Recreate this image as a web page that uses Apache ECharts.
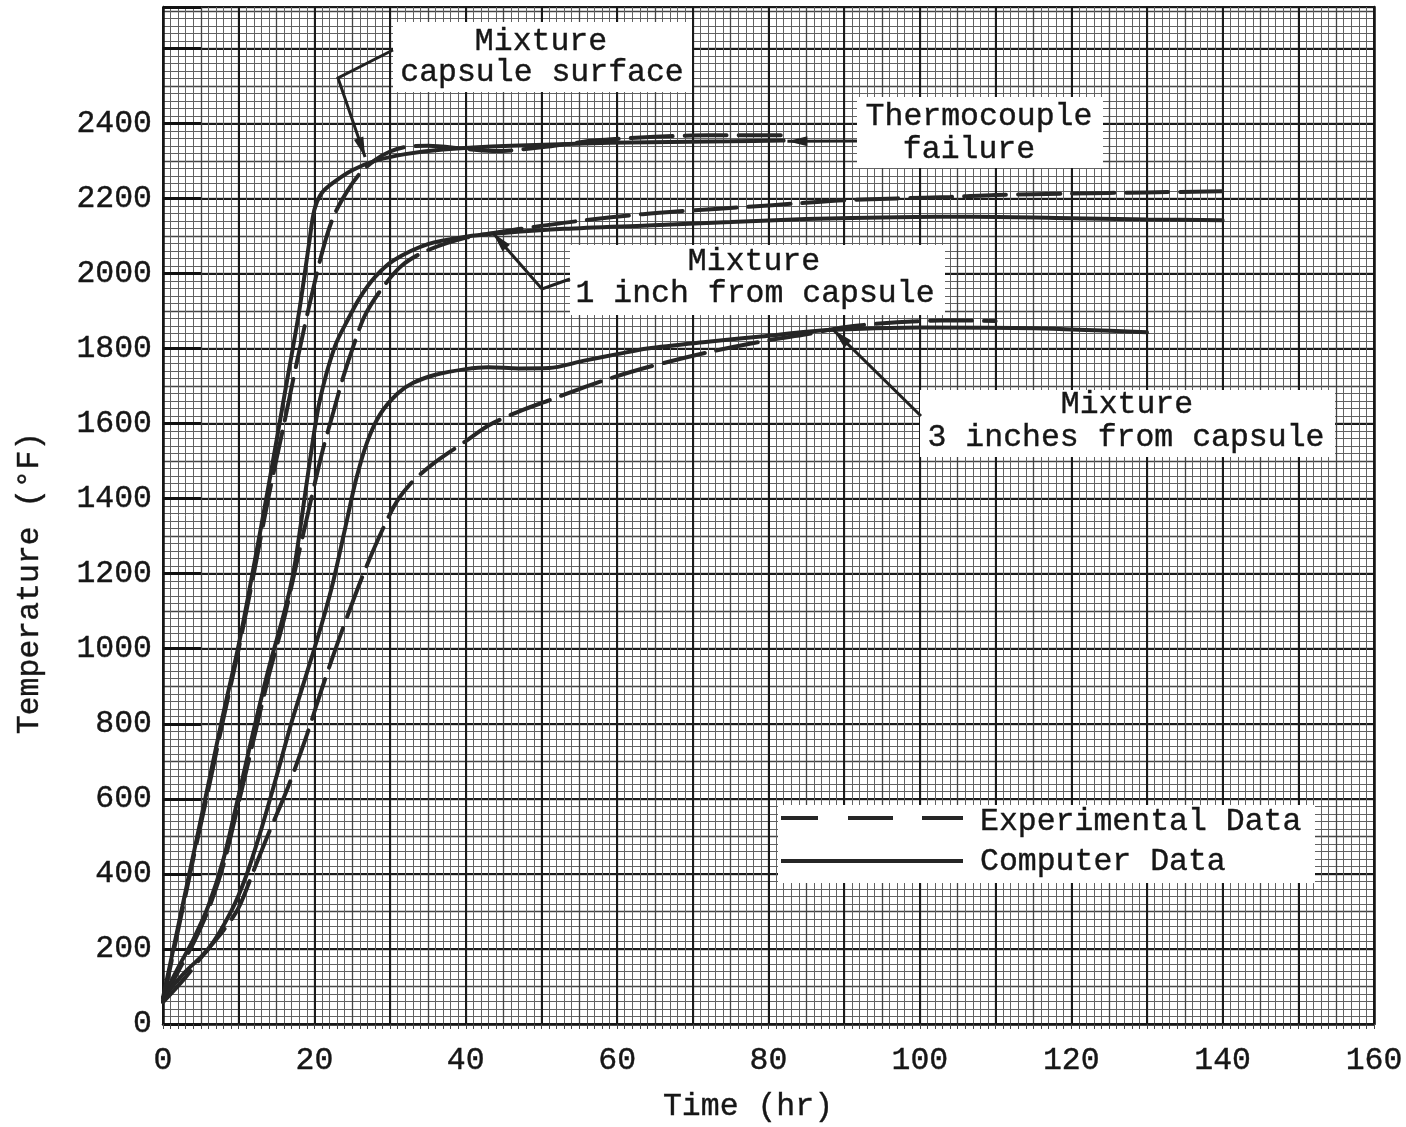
<!DOCTYPE html>
<html>
<head>
<meta charset="utf-8">
<script src="https://cdn.jsdelivr.net/npm/echarts@6/dist/echarts.min.js"></script>
<style>
  html, body { margin: 0; padding: 0; background: #fff; }
  #chart { width: 1406px; height: 1127px; }
</style>
</head>
<body>
<div id="chart"></div>
<script>
// Temperature history of the heated mixture: [time (hr), temperature (°F)]
const capsuleComputed = [[0,70],[2,260],[4,450],[6,640],[8,830],[10,1010],[12,1220],[14,1440],[16,1670],[18,1900],[19.3,2080],[20,2170],[21,2215],[22.5,2242],[25,2275],[28,2300],[32,2318],[37,2330],[46,2340],[59,2348],[75,2352],[82,2354]];
const capsuleExperimental = [[0,60],[2,250],[4,440],[6,625],[8,815],[10,1000],[12,1200],[14,1410],[16,1600],[17.7,1765],[19.4,1921],[21.1,2062],[22.5,2150],[24.3,2218],[26,2266],[28,2302],[30,2325],[32,2337],[35,2340],[40,2332],[44,2326],[50,2336],[57,2354],[65,2364],[72,2368],[82,2368]];
const inchComputed = [[0,70],[2,150],[4,225],[6,315],[8,440],[10,610],[12,785],[14,950],[16,1095],[17.2,1200],[18.2,1330],[19.4,1500],[20.7,1660],[22.7,1805],[24.5,1880],[26,1935],[28,1990],[30.5,2035],[35,2078],[40,2098],[45,2108],[53,2119],[64,2128],[75,2137],[85,2145],[97,2150],[107,2151],[118,2148],[130,2144],[140,2142]];
const inchExperimental = [[0,62],[2,140],[4,215],[6,305],[8,425],[10,590],[12,760],[14,930],[16,1080],[17.4,1205],[19.4,1383],[21.1,1529],[22.5,1630],[23.8,1723],[25.3,1815],[26.7,1889],[29,1962],[31.6,2022],[35,2062],[40.2,2096],[45,2112],[49,2124],[55,2140],[63.4,2158],[70,2168],[77,2177],[84,2187],[90,2195],[97,2200],[104,2204],[110,2209],[120,2213],[130,2216],[140,2219]];
const threeInchComputed = [[0,70],[3,140],[6,200],[9,300],[11,395],[13,520],[15,660],[17,805],[19,935],[21,1068],[22.5,1180],[24,1315],[25.5,1450],[27,1552],[28.7,1625],[31,1680],[33,1708],[36,1730],[40,1745],[43,1750],[47,1747],[51,1748],[55.5,1767],[60,1785],[64,1800],[72,1818],[79,1832],[88,1849],[100,1856],[115,1854],[130,1843]];
const threeInchExperimental = [[0,58],[3,125],[5.5,189],[8,250],[10,310],[12,410],[14,510],[16.5,630],[19,770],[21.1,900],[23.6,1045],[27,1225],[30.4,1375],[32.5,1435],[35.5,1490],[40,1553],[43,1595],[47,1632],[51,1662],[55,1692],[59,1720],[64,1750],[72,1790],[80,1822],[85,1838],[90,1857],[97,1870],[104,1875],[110,1873]];

// Axis ranges and labelled ticks
const timeTicks = [0,20,40,60,80,100,120,140,160];
const tempTicks = [0,200,400,600,800,1000,1200,1400,1600,1800,2000,2200,2400];
const timeMax = 160;
const tempMax = 2710;

const FONT = '"Liberation Mono", "Courier New", monospace';
const INK = '#161616';
const CURVE = '#262626';
const DASH = [42, 12];

const chart = echarts.init(document.getElementById('chart'), null, { renderer: 'canvas' });

function gridAxis(dim, interval, color, width, extra) {
  const base = {
    type: 'value', gridIndex: 0, min: 0,
    position: dim === 'x' ? 'bottom' : 'left', offset: 0,
    max: dim === 'x' ? timeMax : tempMax,
    interval: interval,
    axisLine: { show: false },
    axisTick: { show: false },
    axisLabel: { show: false },
    splitLine: { show: true, lineStyle: { color: color, width: width } }
  };
  return Object.assign(base, extra || {});
}

const xAxes = [
  // paper ruling: 1 hr, 5 hr, 10 hr
  gridAxis('x', 1, '#626262', 1, {
    axisTick: { show: true, inside: false, length: 5, lineStyle: { color: '#444', width: 1 } }
  }),
  gridAxis('x', 5, '#444', 1.3),
  gridAxis('x', 10, '#1a1a1a', 2),
  // labelled time axis
  {
    type: 'value', gridIndex: 0, position: 'bottom', offset: 0,
    min: 0, max: timeMax, interval: timeTicks[1] - timeTicks[0],
    axisLine: { show: true, lineStyle: { color: INK, width: 2.5 } },
    axisTick: { show: false },
    splitLine: { show: false },
    axisLabel: {
      margin: 21, fontFamily: FONT, fontSize: 31.5, color: INK,
      textBorderColor: INK, textBorderWidth: 0.4,
      formatter: v => timeTicks.indexOf(v) >= 0 ? String(v) : ''
    }
  }
];

const yAxes = [
  // paper ruling: 20 °F, 100 °F, 200 °F
  gridAxis('y', 20, '#626262', 1),
  gridAxis('y', 100, '#444', 1.3),
  gridAxis('y', 200, '#1a1a1a', 2),
  // labelled temperature axis
  {
    type: 'value', gridIndex: 0, position: 'left', offset: 0,
    min: 0, max: tempMax, interval: tempTicks[1] - tempTicks[0],
    axisLine: { show: true, lineStyle: { color: INK, width: 2.5 } },
    axisTick: { show: true, inside: true, length: 38, lineStyle: { color: '#111', width: 3 } },
    splitLine: { show: false },
    axisLabel: {
      margin: 11, fontFamily: FONT, fontSize: 31.5, color: INK,
      textBorderColor: INK, textBorderWidth: 0.4,
      formatter: v => tempTicks.indexOf(v) >= 0 ? String(v) : ''
    }
  },
  // right border of the sheet
  {
    type: 'value', gridIndex: 0, position: 'right', offset: 0,
    min: 0, max: tempMax,
    axisLine: { show: true, lineStyle: { color: INK, width: 2.5 } },
    axisTick: { show: false }, axisLabel: { show: false }, splitLine: { show: false }
  }
];

function curve(name, data, dashed) {
  return {
    name: name, type: 'line', xAxisIndex: 3, yAxisIndex: 3,
    data: data, symbol: 'none', smooth: 0.3,
    z: 4, silent: true,
    lineStyle: { color: CURVE, width: 4, type: dashed ? DASH : 'solid', cap: 'round' }
  };
}

chart.setOption({
  animation: false,
  backgroundColor: '#ffffff',
  grid: { left: 163, right: 32, top: 7, bottom: 103, containLabel: false, outerBoundsMode: 'none' },
  xAxis: xAxes,
  yAxis: yAxes,
  series: [
    curve('Capsule surface, computer', capsuleComputed, false),
    curve('Capsule surface, experimental', capsuleExperimental, true),
    curve('1 inch, computer', inchComputed, false),
    curve('1 inch, experimental', inchExperimental, true),
    curve('3 inches, computer', threeInchComputed, false),
    curve('3 inches, experimental', threeInchExperimental, true)
  ]
});

// ---- annotations, legend and axis titles ----
function toPx(t, f) { return chart.convertToPixel({ seriesIndex: 0 }, [t, f]); }

function textEl(str, x, y, align) {
  return {
    type: 'text', z: 20, silent: true,
    style: {
      text: str, x: x, y: y, fill: INK,
      font: '31.5px ' + FONT,
      stroke: INK, lineWidth: 0.4,
      align: align || 'center', verticalAlign: 'middle',
      textAlign: align || 'center', textVerticalAlign: 'middle'
    }
  };
}
function boxEl(x, y, w, h) {
  return { type: 'rect', z: 15, silent: true, shape: { x: x, y: y, width: w, height: h }, style: { fill: '#ffffff' } };
}
function leader(points) {
  return { type: 'polyline', z: 18, silent: true, shape: { points: points }, style: { stroke: '#222', lineWidth: 3, fill: null } };
}
function arrowHead(tip, from) {
  const dx = tip[0] - from[0], dy = tip[1] - from[1];
  const len = Math.sqrt(dx * dx + dy * dy);
  const ux = dx / len, uy = dy / len;
  const L = 20, W = 5;
  const bx = tip[0] - ux * L, by = tip[1] - uy * L;
  return {
    type: 'polygon', z: 19, silent: true,
    shape: { points: [tip, [bx - uy * W, by + ux * W], [bx + uy * W, by - ux * W]] },
    style: { fill: '#222' }
  };
}

const capsuleTip = toPx(26.7, 2310);
const inchTip = toPx(43.6, 2108);
const threeTip = toPx(88.6, 1849);
const tcTip = toPx(82.5, 2352);

const capsuleElbow = [338, 78];
const inchElbow = [542, 289];
const threeStart = [921, 416];
const tcStart = [857, 141];

const elements = [
  // Mixture capsule surface
  boxEl(393, 22, 299, 70),
  textEl('Mixture', 541, 42),
  textEl('capsule surface', 542, 73),
  leader([[393, 50], capsuleElbow, capsuleTip]),
  arrowHead(capsuleTip, capsuleElbow),

  // Thermocouple failure
  boxEl(857, 97, 246, 71),
  textEl('Thermocouple', 979, 117),
  textEl('failure', 969, 150),
  leader([tcStart, tcTip]),
  arrowHead(tcTip, tcStart),

  // Mixture 1 inch from capsule
  boxEl(570, 245, 375, 70),
  textEl('Mixture', 754, 262),
  textEl('1 inch from capsule', 755, 294),
  leader([[570, 279], inchElbow, inchTip]),
  arrowHead(inchTip, inchElbow),

  // Mixture 3 inches from capsule
  boxEl(920, 390, 415, 67),
  textEl('Mixture', 1127, 405),
  textEl('3 inches from capsule', 1126, 438),
  leader([threeStart, threeTip]),
  arrowHead(threeTip, threeStart),

  // legend
  boxEl(778, 805, 537, 78),
  { type: 'line', z: 18, silent: true, shape: { x1: 781, y1: 818, x2: 963, y2: 818 },
    style: { stroke: CURVE, lineWidth: 4, lineDash: [37, 30, 45, 29, 41, 200] } },
  { type: 'line', z: 18, silent: true, shape: { x1: 781, y1: 861, x2: 963, y2: 861 },
    style: { stroke: CURVE, lineWidth: 4 } },
  textEl('Experimental Data', 980, 822, 'left'),
  textEl('Computer Data', 980, 862, 'left'),

  // axis titles
  textEl('Time (hr)', 748, 1107),
  Object.assign(textEl('Temperature (°F)', 0, 0), { x: 30, y: 583, rotation: Math.PI / 2 })
];

chart.setOption({ graphic: { elements: elements } });
</script>
</body>
</html>
